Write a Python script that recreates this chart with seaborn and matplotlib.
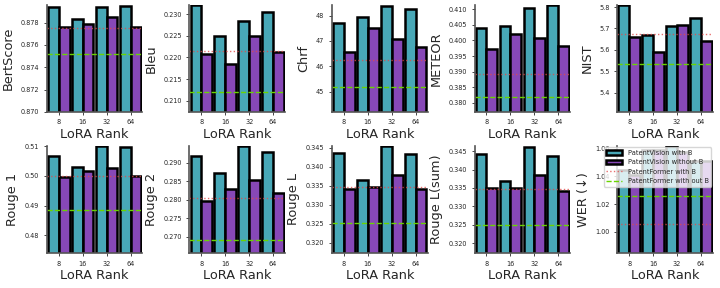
import matplotlib
matplotlib.use("Agg")
import matplotlib.pyplot as plt
import matplotlib.ticker as mticker
import pandas as pd
import seaborn as sns

# LoRA ranks on the x axis
ranks = ["8", "16", "32", "64"]

metrics = ["BertScore", "Bleu", "Chrf", "METEOR", "NIST",
           "Rouge 1", "Rouge 2", "Rouge L", "Rouge L(sum)", "WER (\u2193)"]

# PatentVision with B (cyan bars)
with_b = [
    [0.8794, 0.8783, 0.8794, 0.8795],
    [0.2322, 0.2249, 0.2284, 0.2305],
    [47.70, 47.93, 48.36, 48.25],
    [0.4041, 0.4047, 0.4103, 0.4114],
    [5.808, 5.670, 5.710, 5.749],
    [0.5067, 0.5030, 0.5101, 0.5099],
    [0.2920, 0.2874, 0.2946, 0.2930],
    [0.3437, 0.3366, 0.3455, 0.3433],
    [0.3441, 0.3368, 0.3462, 0.3438],
    [1.045, 1.059, 1.062, 1.051],
]

# PatentVision without B (purple bars)
without_b = [
    [0.8776, 0.8779, 0.8785, 0.87757],
    [0.2208, 0.2186, 0.2249, 0.2212],
    [46.55, 47.50, 47.08, 46.75],
    [0.3972, 0.4020, 0.4009, 0.3981],
    [5.659, 5.590, 5.716, 5.639],
    [0.4996, 0.5017, 0.5026, 0.5000],
    [0.2797, 0.2829, 0.2854, 0.2818],
    [0.3343, 0.3347, 0.3380, 0.3342],
    [0.3350, 0.3350, 0.3385, 0.3341],
    [1.041, 1.059, 1.058, 1.051],
]

# PatentFormer baselines (horizontal lines)
former_with_b = [0.8775, 0.2215, 46.25, 0.3891, 5.675,
                 0.5000, 0.2806, 0.3347, 0.3347, 1.0054]
former_without_b = [0.8752, 0.2120, 45.20, 0.3817, 5.532,
                    0.4887, 0.2692, 0.3252, 0.3250, 1.0260]

# axis ranges and tick steps
ylims = [(0.870, 0.8796), (0.2074, 0.2322), (44.21, 48.42), (0.3771, 0.4114), (5.31, 5.81),
         (0.4741, 0.5101), (0.2657, 0.2946), (0.3174, 0.3455), (0.3174, 0.3464), (0.9848, 1.062)]
ysteps = [0.002, 0.005, 1, 0.005, 0.1, 0.01, 0.005, 0.005, 0.005, 0.02]

CYAN = "#35b6c9"
PURPLE = "#8a35c9"

sns.set_style("ticks")
plt.rcParams["font.family"] = ["DejaVu Sans"]

fig, axes = plt.subplots(2, 5, figsize=(7.2, 2.88), dpi=100)
fig.subplots_adjust(left=0.065, right=0.99, top=0.983, bottom=0.122,
                    wspace=0.49, hspace=0.32)

for i, ax in enumerate(axes.flat):
    df = pd.DataFrame({
        "rank": ranks * 2,
        "value": with_b[i] + without_b[i],
        "model": ["PatentVision with B"] * 4 + ["PatentVision without B"] * 4,
    })
    sns.barplot(data=df, x="rank", y="value", hue="model", order=ranks,
                palette=[CYAN, PURPLE], edgecolor="black", linewidth=1.8,
                width=0.9, ax=ax)
    ax.axhline(former_with_b[i], color="#e24a4a", linestyle=":", linewidth=1,
               alpha=0.8, label="PatentFormer with B")
    ax.axhline(former_without_b[i], color="#6ad400", linestyle="--", linewidth=1,
               label="PatentFormer with out B")
    ax.set_ylim(*ylims[i])
    ax.yaxis.set_major_locator(mticker.MultipleLocator(ysteps[i]))
    ax.set_xlabel("LoRA Rank", fontsize=9.3, labelpad=2)
    ax.set_ylabel(metrics[i], fontsize=9.3)
    ax.tick_params(labelsize=4.7, length=2, width=0.6)
    for s in ["left", "bottom"]:
        ax.spines[s].set_color("#555555")
        ax.spines[s].set_linewidth(1.2)
    sns.despine(ax=ax)
    if i == len(metrics) - 1:
        ax.legend(loc="upper right", fontsize=4.8, framealpha=0.8,
                  borderaxespad=0.2, handlelength=2.4)
    else:
        ax.get_legend().remove()

fig.savefig("out.png", dpi=100)
